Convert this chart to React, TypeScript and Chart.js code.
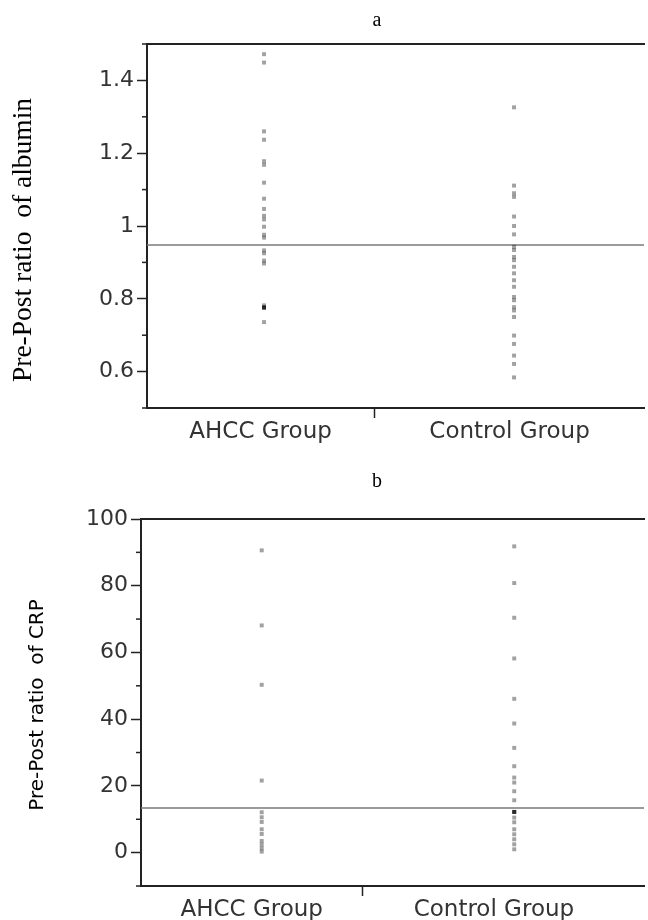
import React, { useEffect, useRef } from 'react';
import { Chart, registerables } from 'chart.js';

Chart.register(...registerables);

// ---------- data ----------
const groupLabels = ['AHCC Group', 'Control Group'];

const albuminAHCC = [1.472, 1.449, 1.26, 1.237, 1.178, 1.168, 1.119, 1.075, 1.047, 1.028, 1.018, 0.998, 0.976, 0.968, 0.933, 0.925, 0.905, 0.897, 0.782, 0.776, 0.776, 0.776, 0.776, 0.736];
const albuminControl = [1.326, 1.111, 1.09, 1.08, 1.026, 1.0, 0.977, 0.943, 0.934, 0.915, 0.906, 0.888, 0.87, 0.851, 0.833, 0.805, 0.796, 0.777, 0.768, 0.75, 0.699, 0.676, 0.644, 0.621, 0.584];
const albuminMean = 0.948;
const albuminTickValues = [0.6, 0.8, 1, 1.2, 1.4];
const albuminTickLabels = ['0.6', '0.8', '1', '1.2', '1.4'];

const crpAHCC = [90.6, 68.1, 50.3, 21.6, 12.1, 10.6, 9.2, 7.0, 5.6, 3.5, 2.4, 1.3, 0.3];
const crpControl = [91.8, 80.8, 70.4, 58.2, 46.1, 38.7, 31.4, 25.9, 22.5, 21.0, 18.4, 15.7, 12.2, 12.2, 12.2, 12.2, 10.5, 9.1, 7.0, 5.5, 4.0, 2.5, 1.0];
const crpMean = 13.4;
const crpTickValues = [0, 20, 40, 60, 80, 100];
const crpTickLabels = ['0', '20', '40', '60', '80', '100'];

type Panel = {
  title: string;
  titleX: number;
  titleY: number;
  series: number[][];
  mean: number;
  tickValues: number[];
  tickLabels: string[];
  min: number;
  max: number;
  step: number;
  padTop: number;
  yWidth: number;
  xHeight: number;
  pointX: number[];
  labelX: number[];
  dividerX: number;
  yTitle: string;
  yTitleFont: string;
  yTitleX: number;
  yTitleY: number;
  xLabelPad: number;
};

function buildConfig(p: Panel): any {
  const eps = p.step * 1e-3;
  const isMajor = (v: number) => p.tickValues.some((t) => Math.abs(t - v) < eps);
  const labelFor = (v: number) => {
    const i = p.tickValues.findIndex((t) => Math.abs(t - v) < eps);
    return i >= 0 ? p.tickLabels[i] : '';
  };
  const pointOpts = {
    pointStyle: 'rect',
    pointRadius: 2.8,
    pointBorderWidth: 0,
    pointBackgroundColor: 'rgba(0,0,0,0.37)',
    pointBorderColor: 'rgba(0,0,0,0)',
    order: 1,
  };
  const datasets: any[] = [
    { type: 'scatter', data: p.series[0].map((v) => ({ x: p.pointX[0], y: v })), ...pointOpts },
    { type: 'scatter', data: p.series[1].map((v) => ({ x: p.pointX[1], y: v })), ...pointOpts },
    {
      type: 'line',
      data: [
        { x: 0, y: p.mean },
        { x: 1, y: p.mean },
      ],
      borderColor: '#7a7a7a',
      borderWidth: 1.5,
      pointRadius: 0,
      order: 2,
    },
  ];
  const decor = {
    id: 'decor' + p.title,
    afterDraw(chart: any) {
      const ctx = chart.ctx;
      const y = chart.scales.y;
      const left = chart.chartArea.left;
      ctx.save();
      ctx.strokeStyle = '#222';
      ctx.lineWidth = 1.5;
      y.ticks.forEach((t: any) => {
        if (!isMajor(t.value)) {
          const py = y.getPixelForValue(t.value);
          ctx.beginPath();
          ctx.moveTo(left - 5, py);
          ctx.lineTo(left, py);
          ctx.stroke();
        }
      });
      // panel letter
      ctx.fillStyle = '#000';
      ctx.font = '20px "Liberation Serif"';
      ctx.textAlign = 'center';
      ctx.textBaseline = 'alphabetic';
      ctx.fillText(p.title, p.titleX, p.titleY);
      // y-axis title
      ctx.translate(p.yTitleX, p.yTitleY);
      ctx.rotate(-Math.PI / 2);
      ctx.font = p.yTitleFont;
      ctx.textBaseline = 'middle';
      ctx.fillText(p.yTitle, 0, 0);
      ctx.restore();
    },
  };
  return {
    type: 'scatter',
    data: { datasets },
    plugins: [decor],
    options: {
      animation: false,
      responsive: false,
      maintainAspectRatio: false,
      layout: { padding: { top: p.padTop, left: 0, right: -3, bottom: 0 } },
      plugins: { legend: { display: false }, tooltip: { enabled: false }, title: { display: false } },
      scales: {
        x: {
          type: 'linear',
          position: 'bottom',
          min: 0,
          max: 1,
          afterBuildTicks: (s: any) => {
            s.ticks = [{ value: p.labelX[0] }, { value: p.dividerX }, { value: p.labelX[1] }];
          },
          afterFit: (s: any) => {
            s.height = p.xHeight;
          },
          ticks: {
            autoSkip: false,
            maxRotation: 0,
            minRotation: 0,
            padding: p.xLabelPad,
            color: '#333',
            font: { family: 'DejaVu Sans', size: 23 },
            callback: (_v: any, i: number) => [groupLabels[0], '', groupLabels[1]][i],
          },
          grid: {
            drawOnChartArea: false,
            tickLength: 10,
            tickWidth: 1.5,
            tickColor: (c: any) => (c.index === 1 ? '#222' : 'rgba(0,0,0,0)'),
          },
          border: { display: true, color: '#222', width: 2 },
        },
        x2: {
          type: 'linear',
          position: 'top',
          min: 0,
          max: 1,
          ticks: { display: false },
          grid: { display: false },
          border: { display: true, color: '#222', width: 2 },
          afterFit: (s: any) => {
            s.height = 0;
          },
        },
        y: {
          type: 'linear',
          position: 'left',
          min: p.min,
          max: p.max,
          afterFit: (s: any) => {
            s.width = p.yWidth;
          },
          ticks: {
            stepSize: p.step,
            autoSkip: false,
            padding: 3,
            color: '#333',
            font: { family: 'DejaVu Sans', size: 22 },
            callback: (v: any) => labelFor(Number(v)),
          },
          grid: {
            drawOnChartArea: false,
            tickLength: 10,
            tickWidth: 1.5,
            tickColor: (c: any) => (c.tick && isMajor(c.tick.value) ? '#222' : 'rgba(0,0,0,0)'),
          },
          border: { display: true, color: '#222', width: 2 },
          title: { display: false },
        },
      },
    },
  };
}

const panelA: Panel = {
  title: 'a',
  titleX: 377,
  titleY: 26,
  series: [albuminAHCC, albuminControl],
  mean: albuminMean,
  tickValues: albuminTickValues,
  tickLabels: albuminTickLabels,
  min: 0.5,
  max: 1.5,
  step: 0.1,
  padTop: 44,
  yWidth: 147,
  xHeight: 52,
  pointX: [0.2355, 0.7385],
  labelX: [0.2285, 0.7295],
  dividerX: 0.457,
  yTitle: 'Pre-Post ratio  of albumin',
  yTitleFont: '27.5px "Liberation Serif"',
  yTitleX: 23.5,
  yTitleY: 240,
  xLabelPad: 0,
};

const panelB: Panel = {
  title: 'b',
  titleX: 377,
  titleY: 27,
  series: [crpAHCC, crpControl],
  mean: crpMean,
  tickValues: crpTickValues,
  tickLabels: crpTickLabels,
  min: -10,
  max: 100,
  step: 10,
  padTop: 59,
  yWidth: 141,
  xHeight: 34,
  pointX: [0.24, 0.742],
  labelX: [0.22, 0.7016],
  dividerX: 0.44,
  yTitle: 'Pre-Post ratio  of CRP',
  yTitleFont: '20px "DejaVu Sans"',
  yTitleX: 38,
  yTitleY: 245,
  xLabelPad: 0,
};

function ChartPanel({ panel }: { panel: Panel }) {
  const ref = useRef<HTMLCanvasElement | null>(null);
  useEffect(() => {
    if (!ref.current) return;
    const chart = new Chart(ref.current, buildConfig(panel));
    return () => chart.destroy();
  }, [panel]);
  return <canvas ref={ref} width={648} height={460} style={{ display: 'block', width: 648, height: 460 }} />;
}

export default function App() {
  return (
    <div style={{ position: 'absolute', left: 0, top: 0, width: 648, height: 920, background: '#fff', overflow: 'hidden' }}>
      <ChartPanel panel={panelA} />
      <ChartPanel panel={panelB} />
    </div>
  );
}
